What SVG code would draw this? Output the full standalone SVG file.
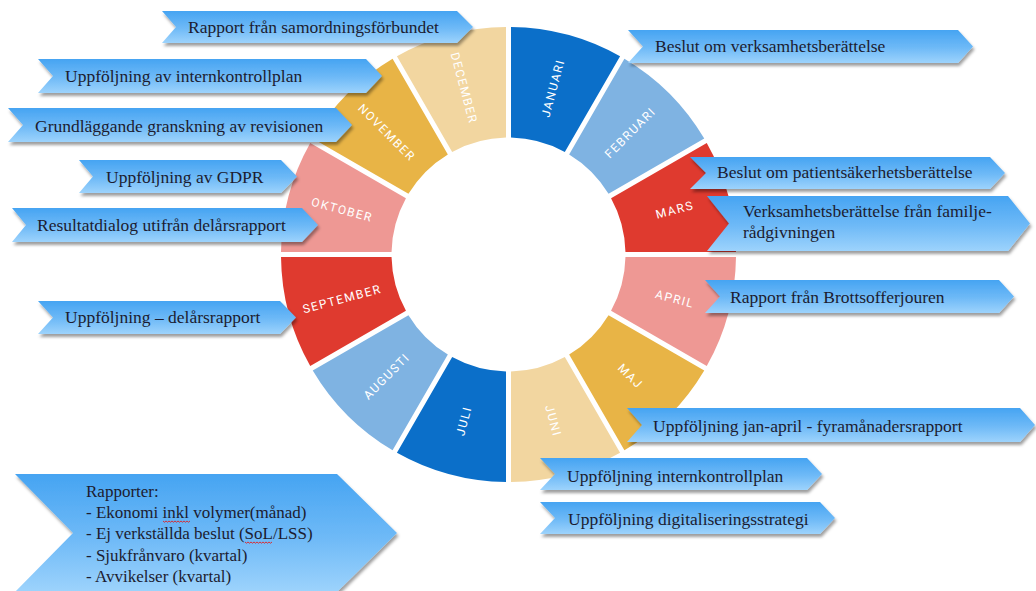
<svg xmlns="http://www.w3.org/2000/svg" width="1036" height="591" viewBox="0 0 1036 591">
<style>
.seg{stroke:none}
.c1{fill:#0b6fc9}.c2{fill:#7fb3e2}.c3{fill:#df3a2f}.c4{fill:#ee9894}.c5{fill:#e8b446}.c6{fill:#f2d6a0}
.m{font-family:Roboto,"Open Sans","DejaVu Sans",sans-serif;font-size:12px;letter-spacing:1.5px;fill:#ffffff;text-anchor:middle;dominant-baseline:central}
.chev{fill:url(#bg);filter:url(#sh)}
.t{font-family:"Liberation Serif","Times New Roman",serif;font-size:17.5px;fill:#1c1c30}
.t2{font-family:"Liberation Serif","Times New Roman",serif;font-size:17px;fill:#1c1c30}
.sq{fill:none;stroke:#e02020;stroke-width:0.9}
</style>
<defs>
<linearGradient id="bg" x1="0" y1="0" x2="0" y2="1">
<stop offset="0" stop-color="#46a4f2"/>
<stop offset="0.55" stop-color="#6fbaf7"/>
<stop offset="1" stop-color="#9dd3fc"/>
</linearGradient>
<filter id="sh" x="-5%" y="-20%" width="115%" height="160%">
<feDropShadow dx="1.5" dy="3" stdDeviation="1.5" flood-color="#000000" flood-opacity="0.38"/>
</filter>
</defs>
<rect width="1036" height="591" fill="#ffffff"/>
<g id="ring">
<g id="januari"><path class="seg c1" d="M511,27.01 A227.5,227.5 0 0 1 620.08,56.24 L564.82,151.95 A117,117 0 0 0 511,137.53 Z"/><text class="m" transform="translate(553.08,88.12) rotate(-75)">JANUARI</text></g>
<g id="februari"><path class="seg c2" d="M624.41,58.74 A227.5,227.5 0 0 1 704.26,138.59 L608.55,193.85 A117,117 0 0 0 569.15,154.45 Z"/><text class="m" transform="translate(630.3,132.7) rotate(-45)">FEBRUARI</text></g>
<g id="mars"><path class="seg c3" d="M706.76,142.92 A227.5,227.5 0 0 1 735.99,252 L625.47,252 A117,117 0 0 0 611.05,198.18 Z"/><text class="m" transform="translate(674.88,209.92) rotate(-15)">MARS</text></g>
<g id="april"><path class="seg c4" d="M735.99,257 A227.5,227.5 0 0 1 706.76,366.08 L611.05,310.82 A117,117 0 0 0 625.47,257 Z"/><text class="m" transform="translate(674.88,299.08) rotate(15)">APRIL</text></g>
<g id="maj"><path class="seg c5" d="M704.26,370.41 A227.5,227.5 0 0 1 624.41,450.26 L569.15,354.55 A117,117 0 0 0 608.55,315.15 Z"/><text class="m" transform="translate(630.3,376.3) rotate(45)">MAJ</text></g>
<g id="juni"><path class="seg c6" d="M620.08,452.76 A227.5,227.5 0 0 1 511,481.99 L511,371.47 A117,117 0 0 0 564.82,357.05 Z"/><text class="m" transform="translate(553.08,420.88) rotate(75)">JUNI</text></g>
<g id="juli"><path class="seg c1" d="M506,481.99 A227.5,227.5 0 0 1 396.92,452.76 L452.18,357.05 A117,117 0 0 0 506,371.47 Z"/><text class="m" transform="translate(463.92,420.88) rotate(-75)">JULI</text></g>
<g id="augusti"><path class="seg c2" d="M392.59,450.26 A227.5,227.5 0 0 1 312.74,370.41 L408.45,315.15 A117,117 0 0 0 447.85,354.55 Z"/><text class="m" transform="translate(386.7,376.3) rotate(-45)">AUGUSTI</text></g>
<g id="september"><path class="seg c3" d="M310.24,366.08 A227.5,227.5 0 0 1 281.01,257 L391.53,257 A117,117 0 0 0 405.95,310.82 Z"/><text class="m" transform="translate(342.12,299.08) rotate(-15)">SEPTEMBER</text></g>
<g id="oktober"><path class="seg c4" d="M281.01,252 A227.5,227.5 0 0 1 310.24,142.92 L405.95,198.18 A117,117 0 0 0 391.53,252 Z"/><text class="m" transform="translate(342.12,209.92) rotate(15)">OKTOBER</text></g>
<g id="november"><path class="seg c5" d="M312.74,138.59 A227.5,227.5 0 0 1 392.59,58.74 L447.85,154.45 A117,117 0 0 0 408.45,193.85 Z"/><text class="m" transform="translate(386.7,132.7) rotate(45)">NOVEMBER</text></g>
<g id="december"><path class="seg c6" d="M396.92,56.24 A227.5,227.5 0 0 1 506,27.01 L506,137.53 A117,117 0 0 0 452.18,151.95 Z"/><text class="m" transform="translate(463.92,88.12) rotate(75)">DECEMBER</text></g>
</g>
<g id="callouts">
<g id="c-samordning"><polygon class="chev" points="162,11 457,11 473,27 457,43 162,43 176,27"/><text class="t" x="188" y="33">Rapport från samordningsförbundet</text></g>
<g id="c-internkontroll"><polygon class="chev" points="38,59 366,59 382,76 366,93 38,93 53,76"/><text class="t" x="65" y="82">Uppföljning av internkontrollplan</text></g>
<g id="c-granskning"><polygon class="chev" points="8,108 336,108 352,125 336,142 8,142 23,125"/><text class="t" x="35" y="132">Grundläggande granskning av revisionen</text></g>
<g id="c-gdpr"><polygon class="chev" points="79,160 281,160 297,176.5 281,193 79,193 93,176.5"/><text class="t" x="106" y="183">Uppföljning av GDPR</text></g>
<g id="c-resultatdialog"><polygon class="chev" points="12,208 302,208 318,225 302,242 12,242 26,225"/><text class="t" x="37" y="231">Resultatdialog utifrån delårsrapport</text></g>
<g id="c-delarsrapport"><polygon class="chev" points="38,301 280,301 296,317.5 280,334 38,334 53,317.5"/><text class="t" x="65" y="323">Uppföljning – delårsrapport</text></g>
<g id="c-rapporter"><polygon class="chev" points="15,474 337,474 397,533 337,592 15,592 73,533"/>
<text class="t2" x="86" y="497">Rapporter:</text>
<text class="t2" x="86" y="518">- Ekonomi inkl volymer(månad)</text>
<text class="t2" x="86" y="539">- Ej verkställda beslut (SoL/LSS)</text>
<text class="t2" x="86" y="561">- Sjukfrånvaro (kvartal)</text>
<text class="t2" x="86" y="582">- Avvikelser (kvartal)</text>
<path class="sq" d="M163,521 l1.5,1.2 l1.5,-1.2 l1.5,1.2 l1.5,-1.2 l1.5,1.2 l1.5,-1.2 l1.5,1.2 l1.5,-1.2 l1.5,1.2 l1.5,-1.2 l1.5,1.2 l1.5,-1.2 l1.5,1.2 l1.5,-1.2 l1.5,1.2 l1.5,-1.2 l1.5,1.2 l1.5,-1.2"/>
<path class="sq" d="M245,542 l1.5,1.2 l1.5,-1.2 l1.5,1.2 l1.5,-1.2 l1.5,1.2 l1.5,-1.2 l1.5,1.2 l1.5,-1.2 l1.5,1.2 l1.5,-1.2 l1.5,1.2 l1.5,-1.2 l1.5,1.2 l1.5,-1.2 l1.5,1.2 l1.5,-1.2 l1.5,1.2 l1.5,-1.2"/>
</g>
<g id="c-verksamhet"><polygon class="chev" points="628,30 958,30 973,46.5 958,63 628,63 643,46.5"/><text class="t" x="655" y="52">Beslut om verksamhetsberättelse</text></g>
<g id="c-patientsakerhet"><polygon class="chev" points="690,157 990,157 1005,173 990,189 690,189 706,173"/><text class="t" x="717" y="178">Beslut om patientsäkerhetsberättelse</text></g>
<g id="c-familjeradgivning"><polygon class="chev" points="707,196 1008,196 1030,223.5 1008,251 707,251 729,223.5"/><text class="t" x="743" y="217">Verksamhetsberättelse från familje-</text><text class="t" x="743" y="238">rådgivningen</text></g>
<g id="c-brottsoffer"><polygon class="chev" points="705,280 999,280 1014,296.5 999,313 705,313 720,296.5"/><text class="t" x="730" y="303">Rapport från Brottsofferjouren</text></g>
<g id="c-fyramanader"><polygon class="chev" points="627,408 1020,408 1035,425 1020,442 627,442 642,425"/><text class="t" x="653" y="432">Uppföljning jan-april - fyramånadersrapport</text></g>
<g id="c-internkontroll2"><polygon class="chev" points="540,458 807,458 822,474 807,490 540,490 555,474"/><text class="t" x="567" y="482">Uppföljning internkontrollplan</text></g>
<g id="c-digitalisering"><polygon class="chev" points="540,502 820,502 835,518 820,534 540,534 555,518"/><text class="t" x="568" y="525">Uppföljning digitaliseringsstrategi</text></g>
</g>
<g id="connectors"/>
</svg>
